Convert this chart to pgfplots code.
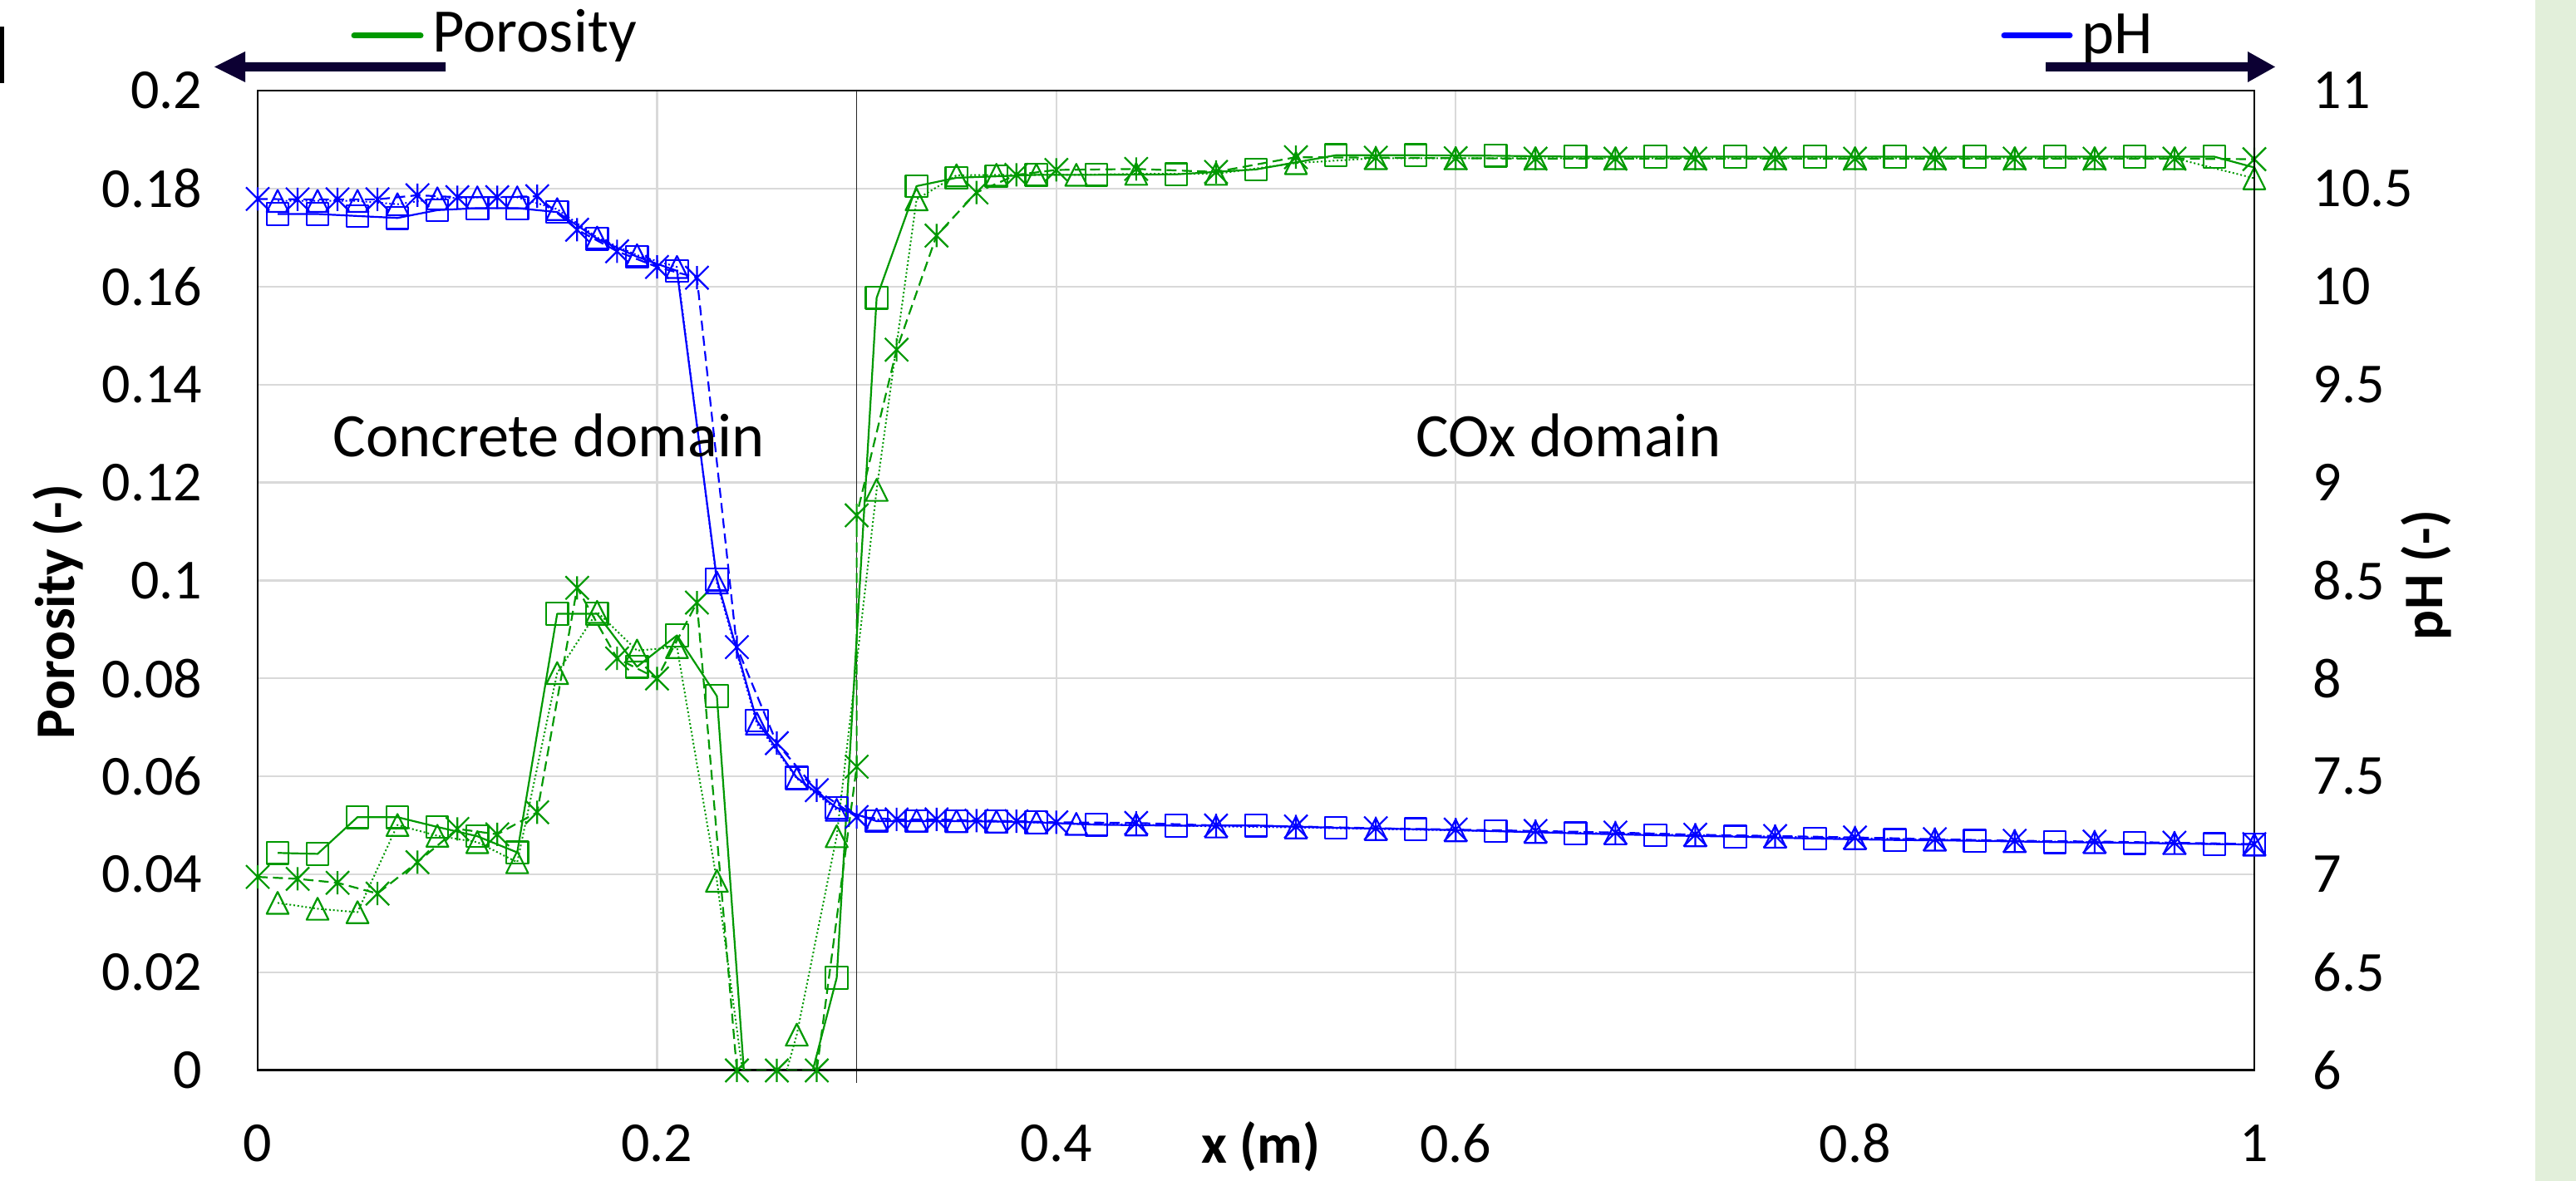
\documentclass[border=0pt]{standalone}
\usepackage{fontspec}
\setmainfont{Carlito}
\usepackage{pgfplots}
\pgfplotsset{compat=1.18}
\usepackage{pgfplotstable}

\definecolor{pgreen}{RGB}{0,153,0}
\definecolor{pblue}{RGB}{0,0,255}
\definecolor{navy}{RGB}{12,0,51}
\definecolor{gridc}{RGB}{217,217,217}
\definecolor{band}{RGB}{226,239,218}

\newcommand\tickfont{\fontsize{17}{20}\selectfont}
\newcommand\titlefont{\fontsize{16.8}{20}\selectfont\bfseries}
\newcommand\annfont{\fontsize{18.6}{22}\selectfont}

\pgfdeclareplotmark{xstar}{%
  \pgfpathmoveto{\pgfqpoint{0pt}{\pgfplotmarksize}}%
  \pgfpathlineto{\pgfqpoint{0pt}{-\pgfplotmarksize}}%
  \pgfpathmoveto{\pgfqpoint{-\pgfplotmarksize}{-\pgfplotmarksize}}%
  \pgfpathlineto{\pgfqpoint{\pgfplotmarksize}{\pgfplotmarksize}}%
  \pgfpathmoveto{\pgfqpoint{-\pgfplotmarksize}{\pgfplotmarksize}}%
  \pgfpathlineto{\pgfqpoint{\pgfplotmarksize}{-\pgfplotmarksize}}%
  \pgfusepathqstroke}
\pgfdeclareplotmark{etri}{%
  \pgfpathmoveto{\pgfqpoint{0pt}{\pgfplotmarksize}}%
  \pgfpathlineto{\pgfqpoint{-\pgfplotmarksize}{-\pgfplotmarksize}}%
  \pgfpathlineto{\pgfqpoint{\pgfplotmarksize}{-\pgfplotmarksize}}%
  \pgfpathclose
  \pgfusepathqstroke}

\pgfplotsset{
  lsolid/.style={line width=0.55pt, solid},
  ldash/.style={line width=0.55pt, dash pattern=on 3pt off 1.6pt},
  ldot/.style={line width=0.5pt, dash pattern=on 0.5pt off 0.7pt},
  msq/.style={mark=square, mark size=3.3pt, mark options={solid, line width=0.55pt}},
  mst/.style={mark=xstar, mark size=3.5pt, mark options={solid, line width=0.55pt}},
  mtr/.style={mark=etri, mark size=3.3pt, mark options={solid, line width=0.55pt}},
}

% ---------------- porosity (left axis) ----------------
\pgfplotstableread{
x y
0.01 0.0444
0.03 0.0442
0.05 0.0517
0.07 0.0517
0.09 0.0497
0.11 0.0478
0.13 0.0445
0.15 0.0932
0.17 0.0932
0.19 0.0824
0.21 0.0888
0.23 0.0764
0.25 -0.0368
0.27 -0.0126
0.29 0.0189
0.31 0.1577
0.33 0.1805
0.35 0.1822
0.37 0.1825
0.39 0.1828
0.42 0.1828
0.46 0.1829
0.50 0.1839
0.54 0.1868
0.58 0.1868
0.62 0.1867
0.66 0.1865
0.70 0.1865
0.74 0.1865
0.78 0.1865
0.82 0.1865
0.86 0.1865
0.90 0.1865
0.94 0.1865
0.98 0.1865
1.00 0.1843
}\porSolid

\pgfplotstableread{
x y
0.00 0.0395
0.02 0.0391
0.04 0.0383
0.06 0.0361
0.08 0.0425
0.10 0.0493
0.12 0.0482
0.14 0.0527
0.16 0.0985
0.18 0.0841
0.20 0.0800
0.22 0.0955
0.24 0.0
0.26 0.0
0.28 0.0
0.30 0.0620
0.30 0.1133
0.32 0.1471
0.34 0.1704
0.36 0.1792
0.38 0.1828
0.40 0.1838
0.44 0.1840
0.48 0.1834
0.52 0.1864
0.56 0.1863
0.60 0.1862
0.64 0.1861
0.68 0.1861
0.72 0.1861
0.76 0.1861
0.80 0.1861
0.84 0.1861
0.88 0.1861
0.92 0.1861
0.96 0.1861
1.00 0.1860
}\porDash

\pgfplotstableread{
x y
0.01 0.0342
0.03 0.0330
0.05 0.0323
0.07 0.0501
0.09 0.0479
0.11 0.0466
0.13 0.0425
0.15 0.0811
0.17 0.0936
0.19 0.0857
0.21 0.0864
0.23 0.0387
0.25 -0.0218
0.27 0.0073
0.29 0.0478
0.31 0.1185
0.33 0.1778
0.35 0.1827
0.37 0.1828
0.39 0.1828
0.41 0.1828
0.44 0.1830
0.48 0.1830
0.52 0.1852
0.56 0.1862
0.60 0.1862
0.64 0.1862
0.68 0.1862
0.72 0.1862
0.76 0.1862
0.80 0.1862
0.84 0.1862
0.88 0.1862
0.92 0.1862
0.96 0.1862
1.00 0.1821
}\porDot

% ---------------- pH (right axis) ----------------
\pgfplotstableread{
x y
0.01 10.37
0.03 10.37
0.05 10.36
0.07 10.35
0.09 10.39
0.11 10.40
0.13 10.40
0.15 10.38
0.17 10.244
0.19 10.152
0.21 10.08
0.23 8.505
0.25 7.785
0.27 7.494
0.29 7.34
0.31 7.272
0.33 7.272
0.35 7.272
0.37 7.270
0.39 7.266
0.42 7.254
0.46 7.249
0.50 7.250
0.54 7.238
0.58 7.231
0.62 7.221
0.66 7.210
0.70 7.200
0.74 7.193
0.78 7.183
0.82 7.176
0.86 7.172
0.90 7.165
0.94 7.161
0.98 7.155
1.00 7.153
}\phSolid

\pgfplotstableread{
x y
0.00 10.447
0.02 10.445
0.04 10.445
0.06 10.445
0.08 10.466
0.10 10.456
0.12 10.456
0.14 10.461
0.16 10.29
0.18 10.18
0.20 10.10
0.22 10.045
0.24 8.16
0.26 7.67
0.28 7.43
0.30 7.293
0.32 7.281
0.34 7.281
0.36 7.275
0.38 7.272
0.40 7.266
0.44 7.263
0.48 7.250
0.52 7.245
0.56 7.236
0.60 7.229
0.64 7.222
0.68 7.214
0.72 7.203
0.76 7.196
0.80 7.189
0.84 7.180
0.88 7.172
0.92 7.168
0.96 7.162
1.00 7.155
}\phDash

\pgfplotstableread{
x y
0.01 10.437
0.03 10.437
0.05 10.437
0.07 10.42
0.09 10.45
0.11 10.455
0.13 10.455
0.15 10.395
0.17 10.25
0.19 10.16
0.21 10.10
0.23 8.49
0.25 7.77
0.27 7.49
0.29 7.33
0.31 7.28
0.33 7.275
0.35 7.272
0.37 7.27
0.39 7.265
0.41 7.258
0.44 7.255
0.48 7.245
0.52 7.240
0.56 7.232
0.60 7.225
0.64 7.217
0.68 7.210
0.72 7.200
0.76 7.193
0.80 7.185
0.84 7.178
0.88 7.170
0.92 7.165
0.96 7.160
1.00 7.152
}\phDot

\begin{document}
\begin{tikzpicture}
\path[use as bounding box] (0,0) rectangle (774.75pt,355.25pt);
\fill[white] (0,0) rectangle (774.75pt,355.25pt);
\fill[band] (762.5pt,0) rectangle (774.75pt,355.25pt);

\begin{axis}[
  at={(77.5pt,33.25pt)}, anchor=south west,
  scale only axis, width=600.5pt, height=294.75pt,
  xmin=0, xmax=1, ymin=0, ymax=0.2,
  xtick={0,0.2,0.4,0.6,0.8,1},
  xticklabels={0,0.2,0.4,0.6,0.8,1},
  ytick={0,0.02,0.04,0.06,0.08,0.1,0.12,0.14,0.16,0.18,0.2},
  yticklabels={0,0.02,0.04,0.06,0.08,0.1,0.12,0.14,0.16,0.18,0.2},
  grid=major, major grid style={gridc, line width=0.55pt},
  tick style={draw=none},
  axis line style={black, line width=0.5pt},
  xticklabel style={font=\tickfont, anchor=center, yshift=-22pt},
  yticklabel style={font=\tickfont, anchor=east, inner sep=0pt, xshift=-16.5pt},
  clip mode=individual,
  every axis plot/.append style={line join=round, color=pgreen},
]
\draw[black!85, line width=0.4pt] (axis cs:0.3,0.2) -- ([yshift=-3.75pt]axis cs:0.3,0);
\draw[black, line width=0.75pt] (axis cs:0,0) -- (axis cs:1,0);
\addplot[pgreen, lsolid, no marks] table[x=x,y=y] {\porSolid};
\addplot[pgreen, only marks, msq, restrict y to domain=0:1, restrict x to domain=0:0.99] table[x=x,y=y] {\porSolid};
\addplot[pgreen, ldash, mst] table[x=x,y=y] {\porDash};
\addplot[pgreen, ldot, no marks] table[x=x,y=y] {\porDot};
\addplot[pgreen, only marks, mtr, restrict y to domain=0:1] table[x=x,y=y] {\porDot};
\end{axis}

\begin{axis}[
  at={(77.5pt,33.25pt)}, anchor=south west,
  scale only axis, width=600.5pt, height=294.75pt,
  xmin=0, xmax=1, ymin=6, ymax=11,
  axis y line*=right, axis x line=none,
  ytick={6,6.5,7,7.5,8,8.5,9,9.5,10,10.5,11},
  yticklabels={6,6.5,7,7.5,8,8.5,9,9.5,10,10.5,11},
  tick style={draw=none},
  axis line style={black, line width=0.5pt},
  yticklabel style={font=\tickfont, anchor=west, inner sep=0pt, xshift=17.5pt},
  every axis plot/.append style={line join=round},
]
\addplot[pblue, lsolid, msq] table[x=x,y=y] {\phSolid};
\addplot[pblue, ldash, mst] table[x=x,y=y] {\phDash};
\addplot[pblue, ldot, mtr] table[x=x,y=y] {\phDot};
\end{axis}

\begin{scope}[yshift=355.25pt, x=0.25pt, y=-0.25pt]
  % cropped glyph at top-left corner
  \fill[black] (0,32) rectangle (5,100);
  % legend entries
  \draw[pgreen, line width=1.75pt, line cap=round] (426,43) -- (506,43);
  \node[anchor=base west, inner sep=0pt, font=\annfont] at (520,63) {Porosity};
  \draw[pblue, line width=1.75pt, line cap=round] (2411,43) -- (2490,43);
  \node[anchor=base west, inner sep=0pt, font=\annfont] at (2504,65) {pH};
  % arrows
  \fill[navy] (536,75) -- (295,75) -- (295,62) -- (258,80.5) -- (295,99) -- (295,86) -- (536,86) -- cycle;
  \fill[navy] (2461,75) -- (2704,75) -- (2704,62) -- (2737,80.5) -- (2704,99) -- (2704,86) -- (2461,86) -- cycle;
  % domain annotations
  \node[anchor=base, inner sep=0pt, font=\annfont] at (660,550) {Concrete domain};
  \node[anchor=base, inner sep=0pt, font=\annfont] at (1887,550) {COx domain};
  % axis titles
  \node[anchor=base, inner sep=0pt, rotate=90, font=\titlefont] at (90,736) {Porosity (-)};
  \node[anchor=base, inner sep=0pt, rotate=90, font=\titlefont] at (2938,692) {pH (-)};
  \node[anchor=base, inner sep=0pt, font=\titlefont] at (1517,1400) {x (m)};
\end{scope}
\end{tikzpicture}
\end{document}
